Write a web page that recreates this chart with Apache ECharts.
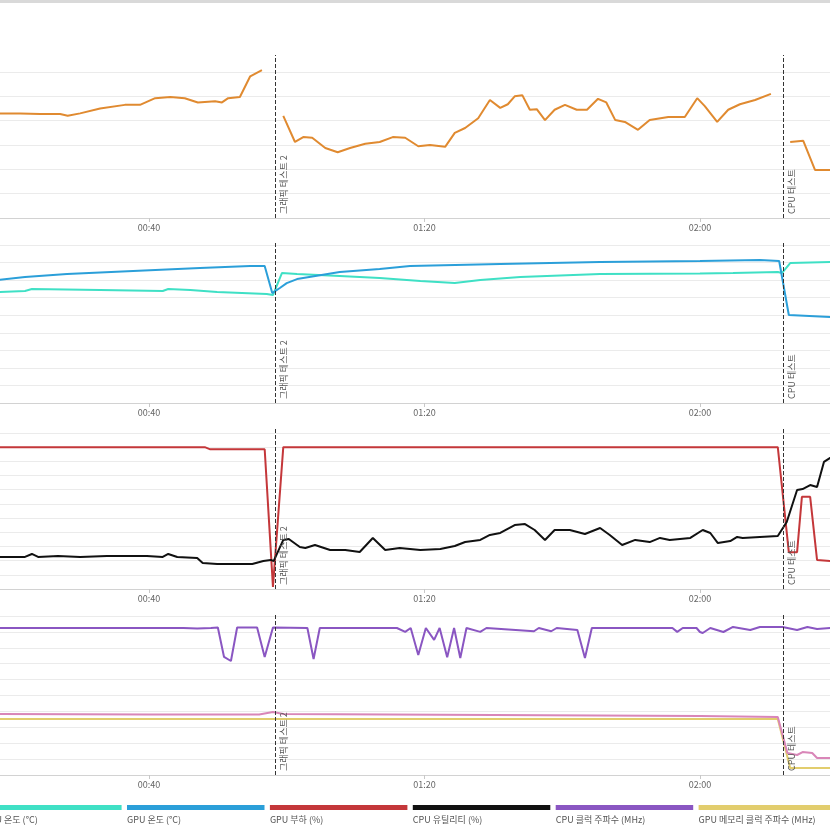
<!DOCTYPE html>
<html><head><meta charset="utf-8">
<script src="https://cdn.jsdelivr.net/npm/echarts@6/dist/echarts.min.js"></script>
<style>html,body{margin:0;padding:0;background:#fff;overflow:hidden}#c{width:830px;height:830px}</style>
</head><body><div id="c"></div>
<script>
// ---- data (x = elapsed minutes) ----
const markerTimes = [58.3, 132.05];
const markerNames = ['그래픽 테스트 2', 'CPU 테스트'];
const tickValues = [40, 80, 120];

const cpuPower = [[18.0,86],[21.3,86],[24.2,85.5],[27.1,85.5],[28.2,84],[30.0,86],[32.9,90],[36.5,93],[38.7,93],[40.9,98.5],[43.1,99.5],[45.2,98.5],[47.1,95],[49.6,96],[50.6,95],[51.5,98.5],[53.2,99.5],[54.7,116.5],[56.4,121.5],[57.5,null],
 [59.5,84],[61.2,62.5],[62.4,66.5],[63.7,66],[65.6,57.5],[67.4,54],[69.2,57.5],[71.4,61],[73.5,62.5],[75.4,66.5],[77.2,66],[79.1,59],[80.8,60],[83.0,58.5],[84.4,70],[85.9,74],[87.8,82],[89.5,97],[91.0,90.5],[92.1,93.5],[93.1,100],[94.2,101],[95.3,89],[96.3,89.5],[97.5,80.5],[98.9,89],[100.4,93],[102.1,89],[103.6,89],[105.2,98],[106.4,95],[107.7,80.5],[109.1,79],[111.0,72.5],[112.7,80.5],[115.4,83],[117.8,83],[119.6,98.5],[120.7,92],[122.5,79],[124.1,89],[125.8,93.5],[128.0,97],[130.3,102],[131.5,null],
 [133.1,62.5],[135.0,63.5],[136.7,39.5],[138.9,39.5],[140.6,39.5]];

const cpuTemp = [[18.0,63.2],[22.0,63.8],[23.0,64.9],[32.9,64.4],[42.0,63.8],[42.8,64.9],[46.0,64.4],[49.9,63.2],[57.1,62.1],[58.0,61.5],[59.3,74.0],[61.5,73.5],[67.7,72.3],[73.5,71.2],[79.4,69.5],[84.4,68.3],[88.1,70.0],[93.9,71.8],[105.5,73.5],[120.0,73.8],[124.8,74.0],[131.3,74.6],[131.9,74.0],[133.1,79.7],[138.9,80.3],[140.6,80.3]];
const gpuTemp = [[18.0,70.0],[22.0,71.8],[28.1,73.5],[37.7,75.2],[47.4,76.9],[54.7,78.0],[56.8,78.0],[57.9,62.6],[59.0,65.5],[60.0,68.3],[61.5,70.6],[67.7,74.6],[73.5,76.3],[77.9,78.0],[91.0,79.2],[105.5,80.3],[120.0,80.9],[128.7,81.4],[131.5,80.9],[132.9,50.1],[138.9,49.0],[140.6,48.8]];

const gpuLoad = [[18.0,100],[48.1,100],[48.9,98.5],[56.8,98.5],[58.0,1.5],[59.5,100],[131.3,100],[132.9,26],[134.1,26],[134.8,65],[136.0,65],[137.0,20.5],[138.9,19.7],[140.6,19.7]];
const cpuUtil = [[18.0,22.6],[22.0,22.6],[23.0,24.7],[23.9,22.6],[26.8,23.3],[30.0,22.6],[33.9,23.3],[39.7,23.3],[42.0,22.6],[42.8,24.7],[44.1,22.6],[47.0,21.9],[47.8,18.3],[49.9,17.6],[55.0,17.6],[56.6,19.7],[57.7,20.5],[58.1,19.7],[59.5,34.6],[60.3,35.3],[61.9,29.6],[62.7,28.9],[64.1,31.0],[66.3,27.5],[68.5,27.5],[70.6,26.1],[72.5,36.0],[74.3,27.5],[76.4,28.9],[79.4,27.5],[82.3,28.2],[84.4,30.3],[85.9,33.1],[88.1,34.6],[89.5,38.1],[91.0,39.5],[93.1,45.1],[94.6,45.8],[96.0,41.6],[97.5,34.6],[98.9,41.6],[101.1,41.6],[103.3,38.8],[105.5,43.0],[106.9,38.1],[108.7,31.0],[110.6,34.6],[112.7,33.1],[114.2,36.0],[115.6,34.6],[118.6,36.0],[120.4,41.6],[121.5,39.5],[122.6,32.4],[124.4,33.8],[125.4,36.7],[126.2,36.0],[128.7,36.7],[131.3,37.4],[132.6,47.2],[134.1,69.8],[134.9,70.5],[136.0,73.3],[137.0,71.9],[138.0,89.6],[138.9,92.4],[140.6,94.5]];

const cpuClock = [[18.0,4623],[45,4623],[47,4610],[49,4623],[50.0,4640],[50.9,3711],[51.9,3585],[52.8,4640],[55.7,4640],[56.8,3711],[58.0,4640],[63.0,4623],[63.9,3650],[64.8,4623],[76.0,4623],[77.2,4500],[78.0,4623],[79.1,3774],[80.2,4623],[81.4,4250],[82.2,4623],[83.3,3700],[84.3,4623],[85.2,3680],[86.1,4623],[88.1,4500],[89.0,4623],[95.9,4520],[96.6,4623],[98.4,4520],[99.2,4623],[102.2,4560],[103.3,3680],[104.3,4623],[116.0,4623],[116.7,4500],[117.5,4623],[119.5,4623],[120.0,4497],[120.4,4466],[121.5,4623],[123.4,4497],[124.8,4655],[127.3,4560],[128.7,4655],[132.0,4655],[134.1,4560],[135.6,4655],[137.0,4590],[138.9,4623],[140.6,4623]];
const gpuMemClock = [[18.0,1760],[131.3,1760],[133.1,220],[140.6,220]];
const gpuClock = [[18.0,1918],[40,1900],[56,1900],[58.0,1980],[59.5,1918],[90,1890],[120,1855],[131.3,1824],[132.7,692],[134.1,629],[134.9,723],[136.3,692],[137.0,535],[140.6,535]];

const seriesNames = ['CPU 패키지 전력 (W)','CPU 온도 (°C)','GPU 온도 (°C)','GPU 부하 (%)','CPU 유틸리티 (%)','CPU 클럭 주파수 (MHz)','GPU 메모리 클럭 주파수 (MHz)','GPU 클럭 주파수 (MHz)'];
const seriesData = [cpuPower, cpuTemp, gpuTemp, gpuLoad, cpuUtil, cpuClock, gpuMemClock, gpuClock];
const seriesPanel = [0,1,1,2,2,3,3,3];
const seriesColors = ['#e08a30','#3fe0c5','#2b9fd9','#c4373a','#111111','#8a56c2','#e2cd6d','#d986b8'];

// ---- layout ----
const xMin = 18.37, xMax = 138.88;
const gridTops = [55, 242, 427, 613];
const gridHeights = [163, 161, 162, 162];
const yMax = [134, 91.71, 114.23, 5094.3];
const yInterval = [20, 10, 10, 500];

const pad = n => String(n).padStart(2,'0');
const fmt = v => pad(Math.floor(v/60)) + ':' + pad(Math.round(v%60));
const FONT = '"Noto Sans CJK KR", "Noto Sans", sans-serif';

const grids = gridTops.map((t,i)=>({left:0, right:0, top:t, height:gridHeights[i]}));
const xAxes = gridTops.map((t,i)=>({
  gridIndex:i, type:'value', min:xMin, max:xMax,
  axisLine:{lineStyle:{color:'#d2d2d2'}},
  axisTick:{show:true, length:4, customValues:tickValues, lineStyle:{color:'#c8c8c8'}},
  splitLine:{show:false},
  axisLabel:{fontSize:9, color:'#666', margin:5, fontFamily:FONT, customValues:tickValues, formatter:fmt}
}));
const yAxes = gridTops.map((t,i)=>({
  gridIndex:i, type:'value', min:0, max:yMax[i], interval:yInterval[i],
  axisLine:{show:false}, axisTick:{show:false}, axisLabel:{show:false},
  splitLine:{show:true, showMaxLine:false, lineStyle:{color:'#ebebeb', width:1}}
}));

const firstInPanel = {};
const series = seriesData.map((d,i)=>{
  const p = seriesPanel[i];
  const s = {
    name: seriesNames[i], type:'line', xAxisIndex:p, yAxisIndex:p, data:d,
    symbol:'none', showSymbol:false, connectNulls:false, clip:true,
    lineStyle:{width:2, color:seriesColors[i]}, itemStyle:{color:seriesColors[i]},
    animation:false, z: 3
  };
  if (firstInPanel[p] === undefined) {
    firstInPanel[p] = i;
    s.markLine = {
      silent:true, symbol:['none','none'], animation:false,
      lineStyle:{type:'dashed', color:'#333', width:1},
      label:{show:true, position:'insideStartBottom', formatter:'{b}', fontSize:9, color:'#555', fontFamily:FONT, distance:4},
      data: markerTimes.map((t,k)=>({xAxis:t, name:markerNames[k]}))
    };
  }
  return s;
});

// legend drawn as bars with captions beneath
const legendStart = -158.8, legendPitch = 142.9, legendBarW = 137.5;
const legendEls = [];
seriesNames.forEach((n,i)=>{
  const x = legendStart + i*legendPitch;
  legendEls.push({type:'rect', shape:{x:x, y:805, width:legendBarW, height:5}, style:{fill:seriesColors[i]}});
  legendEls.push({type:'text', x:x, y:815, style:{text:n, fill:'#555', font:'9px ' + FONT}});
});

const chart = echarts.init(document.getElementById('c'), null, {renderer:'canvas'});
chart.setOption({
  animation:false,
  backgroundColor:'#ffffff',
  grid:grids, xAxis:xAxes, yAxis:yAxes, series:series,
  graphic:[
    {type:'rect', shape:{x:0,y:0,width:830,height:3}, style:{fill:'#d9d9d9'}},
    ...legendEls
  ]
});
</script></body></html>
